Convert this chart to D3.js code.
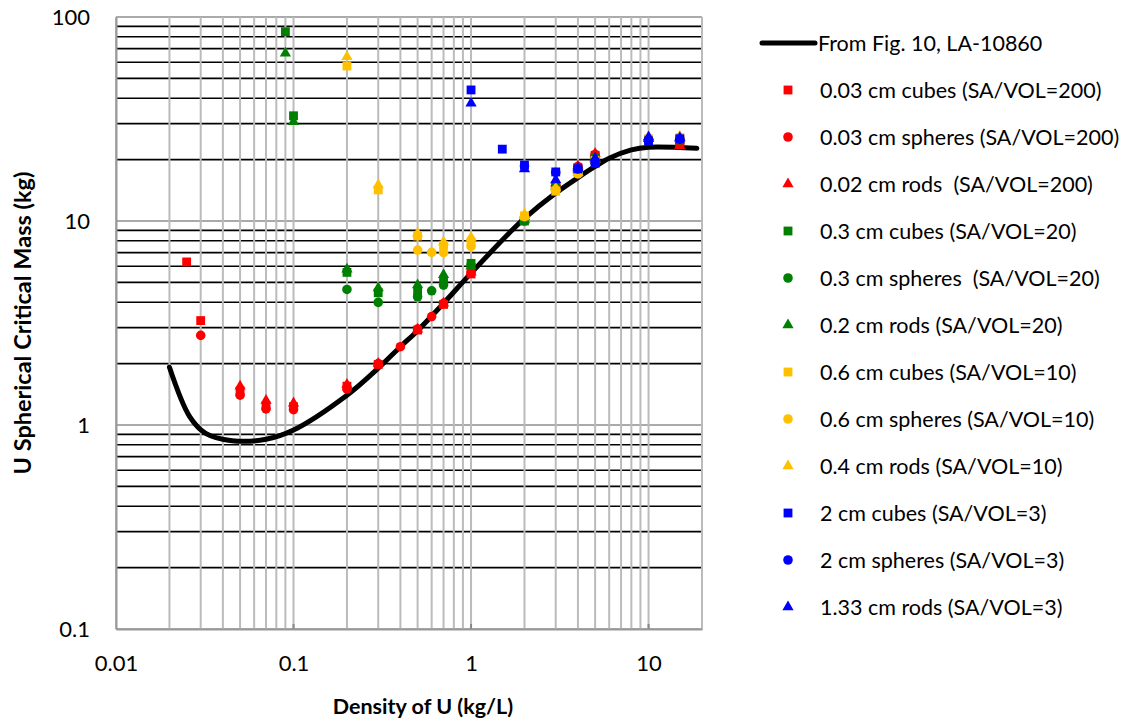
<!DOCTYPE html>
<html>
<head>
<meta charset="utf-8">
<script src="https://cdn.jsdelivr.net/npm/d3@7"></script>
<style>
	body {
		padding: 0;
		margin: 0;
		background: #FFF;
	}
	text {
		font-family: Lato, "Open Sans", sans-serif;
		fill: #000;
	}
	.grid-v {
		stroke: #BBB;
		stroke-width: 2;
	}
	.grid-h {
		stroke: #000;
		stroke-width: 1.6;
	}
	.grid-h.major {
		stroke: #AAA;
		stroke-width: 2;
	}
	.axis path, .axis line {
		stroke: #999;
		stroke-width: 2;
	}
</style>
</head>
<body>
<div id="content"></div>
<script>

// Reference curve, From Fig. 10, LA-10860
var curveX = [0.02, 0.026, 0.032, 0.045, 0.07, 0.1, 0.2, 0.3, 0.4, 0.5, 0.7, 1, 1.7, 2, 3, 4, 5, 6, 8, 10, 18.7];
var curveY = [1.92, 1.1, 0.91, 0.838, 0.851, 0.945, 1.4, 1.9, 2.42, 2.9, 3.95, 5.55, 9.0, 10.3, 13.7, 16.3, 18.5, 20.3, 22.3, 23.0, 22.7];

// SA/VOL=200
var redCubesX = [0.025, 0.03, 0.05, 0.07, 0.1, 0.2, 0.3, 0.5, 0.7, 1, 2, 3, 4, 5, 10, 15];
var redCubesY = [6.3, 3.25, 1.47, 1.24, 1.23, 1.55, 1.98, 2.92, 3.9, 5.5, 10.3, 14.8, 18.3, 21, 25, 24];
var redSpheresX = [0.03, 0.05, 0.07, 0.1, 0.2, 0.3, 0.4, 0.5, 0.6, 0.7, 1, 2, 3, 4, 5, 10, 15];
var redSpheresY = [2.75, 1.4, 1.2, 1.19, 1.5, 2.0, 2.42, 2.95, 3.4, 3.95, 5.6, 10.4, 15, 18.5, 21.2, 25, 24];
var redRodsX = [0.05, 0.07, 0.1, 0.2, 0.3, 0.5, 0.7, 1, 2, 3, 4, 5, 10, 15];
var redRodsY = [1.55, 1.32, 1.28, 1.58, 2.0, 2.95, 3.95, 5.6, 10.5, 15.3, 18.6, 21.4, 25.3, 23.4];

// SA/VOL=20
var greenCubesX = [0.09, 0.1, 0.2, 0.3, 0.5, 0.7, 1, 2, 3, 4, 5, 10, 15];
var greenCubesY = [84.7, 32.8, 5.6, 4.45, 4.5, 5.1, 6.2, 10.0, 14.5, 17.6, 20.3, 25, 25];
var greenSpheresX = [0.2, 0.3, 0.5, 0.6, 0.7, 1, 2, 3, 4, 5, 10, 15];
var greenSpheresY = [4.62, 3.99, 4.25, 4.55, 4.85, 6.1, 10.0, 14.5, 17.5, 20.3, 25, 25];
var greenRodsX = [0.09, 0.1, 0.2, 0.3, 0.5, 0.7, 1, 2, 3, 4, 5, 10, 15];
var greenRodsY = [66.4, 30.7, 5.8, 4.7, 4.86, 5.45, 6.0, 10.1, 14.8, 17.8, 20.3, 25.3, 25.3];

// SA/VOL=10
var orangeCubesX = [0.2, 0.3, 0.5, 0.7, 1, 2, 3, 4, 5, 10, 15];
var orangeCubesY = [57.5, 14.2, 8.44, 7.6, 7.9, 10.6, 14.0, 17.3, 19.8, 25.3, 25.6];
var orangeSpheresX = [0.5, 0.6, 0.7, 1, 2, 3, 4, 5, 10, 15];
var orangeSpheresY = [7.2, 7.02, 7.0, 7.5, 10.5, 14.2, 17.0, 19.5, 25.3, 25.5];
var orangeRodsX = [0.2, 0.3, 0.5, 0.7, 1, 2, 3, 4, 5, 10, 15];
var orangeRodsY = [63.9, 15.0, 8.7, 7.9, 8.3, 10.8, 14.5, 17.3, 20, 25.8, 26];

// SA/VOL=3
var blueCubesX = [1, 1.5, 2, 3, 4, 5, 10, 15];
var blueCubesY = [43.9, 22.5, 18.8, 17.4, 18.0, 19.2, 24.7, 25.3];
var blueSpheresX = [2, 3, 4, 5, 10, 15];
var blueSpheresY = [18.6, 17.3, 18.0, 19.2, 24.8, 25.2];
var blueRodsX = [1, 2, 3, 4, 5, 10, 15];
var blueRodsY = [37.8, 18.0, 15.9, 18.2, 20.3, 25.8, 25.6];

var curveName = 'From Fig. 10, LA-10860';
var seriesNames = [
	'0.03 cm cubes (SA/VOL=200)',
	'0.03 cm spheres (SA/VOL=200)',
	'0.02 cm rods  (SA/VOL=200)',
	'0.3 cm cubes (SA/VOL=20)',
	'0.3 cm spheres  (SA/VOL=20)',
	'0.2 cm rods (SA/VOL=20)',
	'0.6 cm cubes (SA/VOL=10)',
	'0.6 cm spheres (SA/VOL=10)',
	'0.4 cm rods (SA/VOL=10)',
	'2 cm cubes (SA/VOL=3)',
	'2 cm spheres (SA/VOL=3)',
	'1.33 cm rods (SA/VOL=3)'
];
var seriesX = [redCubesX, redSpheresX, redRodsX, greenCubesX, greenSpheresX, greenRodsX,
	orangeCubesX, orangeSpheresX, orangeRodsX, blueCubesX, blueSpheresX, blueRodsX];
var seriesY = [redCubesY, redSpheresY, redRodsY, greenCubesY, greenSpheresY, greenRodsY,
	orangeCubesY, orangeSpheresY, orangeRodsY, blueCubesY, blueSpheresY, blueRodsY];

var xTicks = [0.01, 0.1, 1, 10];
var yTicks = [0.1, 1, 10, 100];
var xTitle = 'Density of U (kg/L)';
var yTitle = 'U Spherical Critical Mass (kg)';

// styles
var colors = ['#FF0000', '#FF0000', '#FF0000', '#008000', '#008000', '#008000',
	'#FFC000', '#FFC000', '#FFC000', '#0000FF', '#0000FF', '#0000FF'];
var shapes = [d3.symbolSquare, d3.symbolCircle, d3.symbolTriangle];
var shapeSizes = [78, 72, 55];

var w = 1125, h = 719;
var plotLeft = 116, plotRight = 702, plotTop = 17, plotBottom = 629;

var svg = d3.select('#content')
	.append('svg')
	.attr('width', w)
	.attr('height', h);

svg.append('rect')
	.attr('width', w)
	.attr('height', h)
	.attr('fill', '#FFF');

var x = d3.scaleLog().domain([0.01, 20]).range([plotLeft, plotRight]);
var y = d3.scaleLog().domain([0.1, 100]).range([plotBottom, plotTop]);

function isMajor(v) {
	var l = Math.log10(v);
	return Math.abs(l - Math.round(l)) < 1e-9;
}

// horizontal grid lines (minor black, major gray)
svg.append('g').selectAll('line')
	.data(y.ticks())
	.enter().append('line')
	.attr('class', function(d) { return isMajor(d) ? 'grid-h major' : 'grid-h'; })
	.attr('x1', plotLeft)
	.attr('x2', plotRight)
	.attr('y1', function(d) { return y(d); })
	.attr('y2', function(d) { return y(d); });

// vertical grid lines on top
svg.append('g').selectAll('line')
	.data(x.ticks())
	.enter().append('line')
	.attr('class', 'grid-v')
	.attr('x1', function(d) { return x(d); })
	.attr('x2', function(d) { return x(d); })
	.attr('y1', plotTop)
	.attr('y2', plotBottom);

// axes
var xAxis = svg.append('g')
	.attr('class', 'axis')
	.attr('transform', 'translate(0,' + plotBottom + ')')
	.call(d3.axisBottom(x).tickValues(xTicks).tickSize(0).tickPadding(26)
		.tickFormat(function(d) { return String(d); }));
var yAxis = svg.append('g')
	.attr('class', 'axis')
	.attr('transform', 'translate(' + plotLeft + ',0)')
	.call(d3.axisLeft(y).tickValues(yTicks).tickSize(0).tickPadding(26)
		.tickFormat(function(d) { return String(d); }));
svg.selectAll('.axis text')
	.style('font-size', '22px')
	.attr('fill', '#000');

// short tick marks at the decades, inside the plot
svg.append('g').selectAll('line')
	.data(xTicks.slice(1))
	.enter().append('line')
	.attr('x1', function(d) { return x(d); })
	.attr('x2', function(d) { return x(d); })
	.attr('y1', plotBottom)
	.attr('y2', plotBottom - 5)
	.attr('stroke', '#888')
	.attr('stroke-width', 2);

// reference curve
var line = d3.line()
	.x(function(d) { return x(d[0]); })
	.y(function(d) { return y(d[1]); })
	.curve(d3.curveCatmullRom);
svg.append('path')
	.datum(d3.zip(curveX, curveY))
	.attr('d', line)
	.attr('fill', 'none')
	.attr('stroke', '#000')
	.attr('stroke-width', 5)
	.attr('stroke-linecap', 'round');

// experiment points
seriesNames.forEach(function(name, i) {
	var sym = d3.symbol().type(shapes[i % 3]).size(shapeSizes[i % 3]);
	svg.append('g').selectAll('path')
		.data(d3.zip(seriesX[i], seriesY[i]))
		.enter().append('path')
		.attr('d', sym)
		.attr('fill', colors[i])
		.attr('transform', function(d) { return 'translate(' + x(d[0]) + ',' + y(d[1]) + ')'; });
});

// legend
var legend = svg.append('g');
var rowH = 47, legTop = 43;
legend.append('line')
	.attr('x1', 762).attr('x2', 815)
	.attr('y1', legTop).attr('y2', legTop)
	.attr('stroke', '#000')
	.attr('stroke-width', 5)
	.attr('stroke-linecap', 'round');
legend.append('text')
	.attr('x', 818).attr('y', legTop)
	.attr('dy', '0.35em')
	.style('font-size', '21.5px')
	.text(curveName);
seriesNames.forEach(function(name, i) {
	var ry = legTop + rowH * (i + 1);
	legend.append('path')
		.attr('d', d3.symbol().type(shapes[i % 3]).size(shapeSizes[i % 3])())
		.attr('fill', colors[i])
		.attr('transform', 'translate(788,' + ry + ')');
	legend.append('text')
		.attr('x', 820).attr('y', ry)
		.attr('dy', '0.35em')
		.style('font-size', '21.5px')
		.style('white-space', 'pre')
		.text(name);
});

// axis titles
svg.append('text')
	.attr('x', 423)
	.attr('y', 706)
	.attr('dy', '0.35em')
	.attr('text-anchor', 'middle')
	.style('font-size', '21.5px')
	.style('font-weight', 'bold')
	.text(xTitle);
svg.append('text')
	.attr('transform', 'translate(23,' + 323 + ') rotate(-90)')
	.attr('dy', '0.35em')
	.attr('text-anchor', 'middle')
	.style('font-size', '23.5px')
	.style('font-weight', 'bold')
	.text(yTitle);

</script>
</body>
</html>
